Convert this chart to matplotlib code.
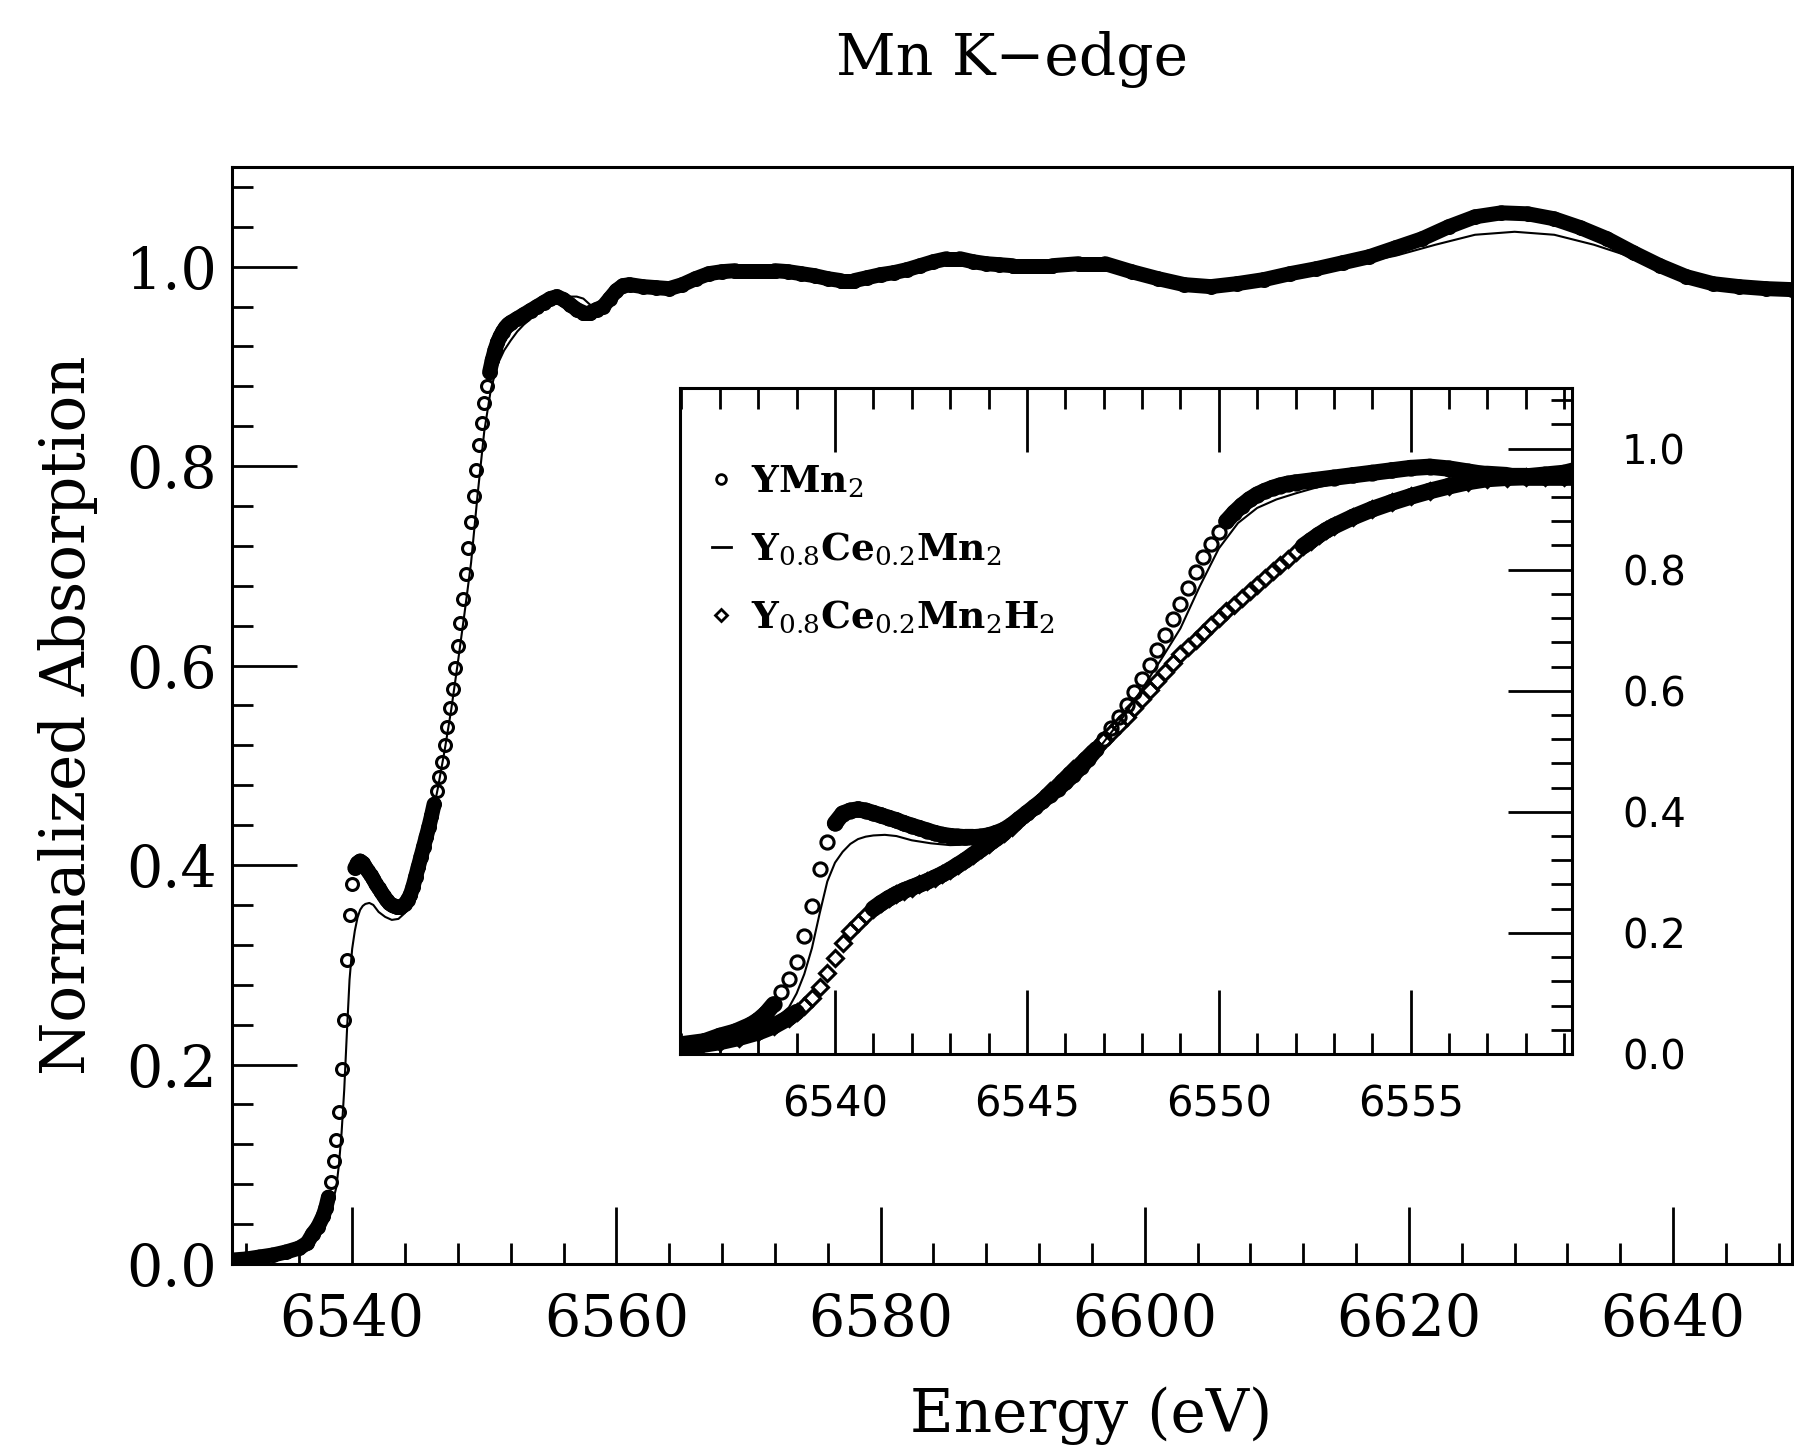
import numpy as np
import matplotlib
matplotlib.use("Agg")
import matplotlib.pyplot as plt
from matplotlib.collections import LineCollection
from matplotlib.lines import Line2D
from matplotlib.ticker import MultipleLocator, FormatStrFormatter

plt.rcParams['font.family'] = ['DejaVu Serif']
plt.rcParams['mathtext.fontset'] = 'dejavuserif'

# YMn2 (open circles)
e_ymn2 = [6531.0, 6532.0, 6533.0, 6534.0, 6535.0, 6536.0, 6536.6, 6537.0, 6537.4, 6537.8,
          6538.0, 6538.2, 6538.4, 6538.6, 6538.8, 6539.0, 6539.2, 6539.4, 6539.6, 6539.8,
          6540.0, 6540.2, 6540.4, 6540.6, 6540.8, 6541.0, 6541.2, 6541.4, 6541.6, 6541.8,
          6542.0, 6542.2, 6542.4, 6542.6, 6542.8, 6543.0, 6543.2, 6543.4, 6543.6, 6543.8,
          6544.0, 6544.2, 6544.4, 6544.6, 6544.8, 6545.0, 6545.2, 6545.4, 6545.6, 6545.8,
          6546.0, 6546.2, 6546.4, 6546.6, 6546.8, 6547.0, 6547.2, 6547.4, 6547.6, 6547.8,
          6548.0, 6548.2, 6548.4, 6548.6, 6548.8, 6549.0, 6549.2, 6549.4, 6549.6, 6549.8,
          6550.0, 6550.2, 6550.4, 6550.6, 6550.8, 6551.0, 6551.2, 6551.4, 6551.6, 6551.8,
          6552.0, 6552.5, 6553.0, 6553.5, 6554.0, 6554.5, 6555.0, 6555.5, 6556.0, 6556.5,
          6557.0, 6557.5, 6558.0, 6558.5, 6559.0, 6559.5, 6560.0, 6560.5, 6561.0,
          6562, 6563, 6564, 6565, 6566, 6567, 6568, 6569, 6570, 6571, 6572, 6573, 6574,
          6575, 6576, 6577, 6578, 6579, 6580, 6581, 6582, 6583, 6584, 6585, 6586, 6587,
          6588, 6589, 6590, 6591, 6593, 6595, 6597, 6599, 6601, 6603, 6605, 6607, 6609,
          6611, 6613, 6615, 6617, 6619, 6621, 6623, 6625, 6627, 6629, 6631, 6633, 6635,
          6637, 6639, 6641, 6643, 6645, 6647, 6649]
mu_ymn2 = [0.004, 0.005, 0.007, 0.009, 0.012, 0.016, 0.021, 0.030, 0.037, 0.048,
           0.056, 0.067, 0.082, 0.103, 0.124, 0.152, 0.195, 0.245, 0.305, 0.350,
           0.381, 0.397, 0.402, 0.404, 0.402, 0.398, 0.394, 0.390, 0.386, 0.381,
           0.377, 0.373, 0.369, 0.365, 0.362, 0.360, 0.359, 0.358, 0.358, 0.359,
           0.361, 0.365, 0.370, 0.378, 0.388, 0.398, 0.408, 0.418, 0.428, 0.438,
           0.449, 0.461, 0.474, 0.488, 0.503, 0.520, 0.538, 0.557, 0.577, 0.598,
           0.620, 0.643, 0.667, 0.692, 0.718, 0.744, 0.770, 0.796, 0.821, 0.843,
           0.863, 0.880, 0.894, 0.906, 0.916, 0.924, 0.930, 0.935, 0.939, 0.942,
           0.944, 0.948, 0.952, 0.956, 0.960, 0.964, 0.968, 0.970, 0.967, 0.962,
           0.957, 0.954, 0.954, 0.957, 0.960, 0.968, 0.976, 0.981, 0.982,
           0.980, 0.979, 0.978, 0.982, 0.988, 0.993, 0.995, 0.996, 0.996, 0.996, 0.996, 0.995, 0.993,
           0.991, 0.988, 0.986, 0.986, 0.989, 0.992, 0.994, 0.997, 1.001, 1.005, 1.008, 1.008, 1.005,
           1.003, 1.002, 1.001, 1.001, 1.001, 1.003, 1.003, 0.995, 0.988, 0.982, 0.980, 0.983, 0.987,
           0.993, 0.998, 1.004, 1.010, 1.019, 1.028, 1.040, 1.050, 1.054, 1.053, 1.048, 1.039, 1.028,
           1.014, 1.001, 0.990, 0.983, 0.980, 0.978, 0.977]

# Y0.8Ce0.2Mn2 (thin line)
e_ce = [6531.0, 6533.0, 6535.0, 6536.0, 6537.0, 6537.5, 6538.0, 6538.4, 6538.8, 6539.0,
        6539.2, 6539.4, 6539.6, 6539.8, 6540.0, 6540.2, 6540.4, 6540.6, 6540.8, 6541.0,
        6541.3, 6541.6, 6542.0, 6542.5, 6543.0, 6543.5, 6544.0, 6544.5, 6545.0, 6545.5,
        6546.0, 6546.5, 6547.0, 6547.5, 6548.0, 6548.5, 6549.0, 6549.5, 6550.0, 6550.5,
        6551.0, 6551.5, 6552.0, 6552.5, 6553.0, 6554.0, 6555.0, 6555.5, 6556.0, 6556.5,
        6557.0, 6557.5, 6558.0, 6558.5, 6559.0, 6560.0, 6561, 6562, 6563, 6564, 6566,
        6568, 6570, 6572, 6574, 6576, 6578, 6580, 6582, 6584, 6586, 6588, 6590, 6592,
        6595, 6598, 6601, 6604, 6607, 6610, 6613, 6616, 6619, 6622, 6625, 6628, 6631,
        6634, 6637, 6640, 6643, 6646, 6649]
mu_ce = [0.004, 0.006, 0.010, 0.013, 0.020, 0.028, 0.040, 0.055, 0.077, 0.100,
         0.132, 0.175, 0.232, 0.285, 0.316, 0.334, 0.347, 0.355, 0.359, 0.361,
         0.362, 0.360, 0.353, 0.348, 0.345, 0.346, 0.352, 0.365, 0.383, 0.408,
         0.445, 0.478, 0.515, 0.556, 0.603, 0.652, 0.703, 0.772, 0.835, 0.877,
         0.902, 0.916, 0.926, 0.935, 0.942, 0.953, 0.962, 0.966, 0.968, 0.970,
         0.970, 0.968, 0.962, 0.959, 0.961, 0.972, 0.978, 0.977, 0.976, 0.976, 0.985,
         0.992, 0.994, 0.994, 0.991, 0.987, 0.985, 0.990, 0.995, 1.003, 1.005, 1.001, 0.999, 0.999,
         1.001, 0.996, 0.986, 0.979, 0.981, 0.989, 0.996, 1.003, 1.011, 1.022, 1.032, 1.035, 1.032,
         1.022, 1.009, 0.995, 0.983, 0.978, 0.976]

# Y0.8Ce0.2Mn2H2 (open diamonds, inset only)
e_h2 = [6536.0, 6536.5, 6537.0, 6537.5, 6538.0, 6538.4, 6538.8, 6539.0, 6539.2, 6539.4,
        6539.6, 6539.8, 6540.0, 6540.2, 6540.4, 6540.6, 6540.8, 6541.0, 6541.2, 6541.4,
        6541.6, 6541.8, 6542.0, 6542.2, 6542.4, 6542.6, 6542.8, 6543.0, 6543.2, 6543.4,
        6543.6, 6543.8, 6544.0, 6544.2, 6544.4, 6544.6, 6544.8, 6545.0, 6545.2, 6545.4,
        6545.6, 6545.8, 6546.0, 6546.2, 6546.4, 6546.6, 6546.8, 6547.0, 6547.2, 6547.4,
        6547.6, 6547.8, 6548.0, 6548.2, 6548.4, 6548.6, 6548.8, 6549.0, 6549.2, 6549.4,
        6549.6, 6549.8, 6550.0, 6550.2, 6550.4, 6550.6, 6550.8, 6551.0, 6551.2, 6551.4,
        6551.6, 6551.8, 6552.0, 6552.2, 6552.4, 6552.6, 6552.8, 6553.0, 6553.5, 6554.0,
        6554.5, 6555.0, 6555.5, 6556.0, 6556.5, 6557.0, 6557.5, 6558.0, 6558.5, 6559.0, 6559.5]
mu_h2 = [0.012, 0.015, 0.020, 0.027, 0.036, 0.046, 0.060, 0.069, 0.080, 0.093,
         0.110, 0.134, 0.158, 0.184, 0.203, 0.217, 0.229, 0.240, 0.249, 0.257,
         0.264, 0.270, 0.275, 0.280, 0.285, 0.291, 0.297, 0.304, 0.312, 0.320,
         0.329, 0.338, 0.347, 0.356, 0.365, 0.375, 0.386, 0.398, 0.410, 0.422,
         0.434, 0.446, 0.458, 0.470, 0.482, 0.494, 0.506, 0.518, 0.530, 0.543,
         0.557, 0.571, 0.586, 0.601, 0.616, 0.631, 0.646, 0.660, 0.672, 0.684,
         0.696, 0.708, 0.720, 0.731, 0.742, 0.753, 0.764, 0.775, 0.786, 0.797,
         0.808, 0.818, 0.829, 0.839, 0.848, 0.857, 0.865, 0.872, 0.887, 0.900,
         0.911, 0.921, 0.930, 0.938, 0.945, 0.950, 0.952, 0.953, 0.953, 0.953, 0.953]

labels = ['YMn$_2$', 'Y$_{0.8}$Ce$_{0.2}$Mn$_2$', 'Y$_{0.8}$Ce$_{0.2}$Mn$_2$H$_2$']
inset_xticks = [6540, 6545, 6550, 6555]
inset_yticks = [0.0, 0.2, 0.4, 0.6, 0.8, 1.0]


def band(ax, e, m, thr, lw):
    # join neighbours that sit close together vertically on screen (or are
    # sampled coarsely), so dense runs read as one solid stroke and steep
    # runs stay as separate symbols
    pts = ax.transData.transform(np.column_stack([e, m]))
    segs = []
    for i in range(len(e) - 1):
        dx = abs(pts[i + 1, 0] - pts[i, 0])
        dy = abs(pts[i + 1, 1] - pts[i, 1])
        if dy < thr or dx >= 12:
            segs.append([(e[i], m[i]), (e[i + 1], m[i + 1])])
    lc = LineCollection(segs, colors='black', linewidths=lw, capstyle='round', joinstyle='round', zorder=2)
    ax.add_collection(lc)


fig = plt.figure(figsize=(17.94, 14.48), dpi=100)

# main panel
ax = fig.add_axes([0.1293, 0.1271, 0.8696, 0.7576])
ax.set_xlim(6530.9, 6649.0)
ax.set_ylim(0, 1.1)
band(ax, e_ymn2, mu_ymn2, 12, 10.8)
ax.plot(e_ymn2, mu_ymn2, 'o', mfc='none', mec='black', ms=8.6, mew=2.2, zorder=3)
ax.plot(e_ce, mu_ce, '-', color='black', lw=1.5, zorder=4)

ax.xaxis.set_major_locator(MultipleLocator(20))
ax.xaxis.set_minor_locator(MultipleLocator(4))
ax.yaxis.set_major_locator(MultipleLocator(0.2))
ax.yaxis.set_minor_locator(MultipleLocator(0.04))
ax.yaxis.set_major_formatter(FormatStrFormatter('%.1f'))
ax.tick_params(which='major', direction='in', width=2, labelsize=41, top=False, right=False)
ax.tick_params(which='minor', direction='in', length=15, width=2, top=False, right=False)
ax.tick_params(axis='x', which='major', length=41, pad=20)
ax.tick_params(axis='y', which='major', length=47, pad=11)
for s in ax.spines.values():
    s.set_linewidth(2.2)
ax.set_xlabel('Energy (eV)', fontsize=43, labelpad=28, x=0.551)
ax.set_ylabel('Normalized Absorption', fontsize=44, labelpad=20)
ax.set_title('Mn K\u2212edge', fontsize=42, pad=66)

# inset
axin = fig.add_axes([0.3790, 0.2721, 0.4972, 0.4599])
axin.set_xlim(6535.96, 6559.2)
axin.set_ylim(0, 1.1)
band(axin, e_ymn2, mu_ymn2, 10, 11.7)
band(axin, e_h2, mu_h2, 6, 12)
axin.plot(e_ymn2, mu_ymn2, 'o', mfc='none', mec='black', ms=9.5, mew=2.2, zorder=3)
axin.plot(e_h2, mu_h2, 'D', mfc='none', mec='black', ms=8, mew=2.2, zorder=3)
axin.plot(e_ce, mu_ce, '-', color='black', lw=1.5, zorder=4)

axin.set_xticks(inset_xticks)
axin.set_xticklabels([str(t) for t in inset_xticks], family='DejaVu Sans', fontsize=30)
axin.set_yticks(inset_yticks)
axin.set_yticklabels(['%.1f' % t for t in inset_yticks], family='DejaVu Sans', fontsize=29)
axin.xaxis.set_minor_locator(MultipleLocator(1))
axin.yaxis.set_minor_locator(MultipleLocator(0.04))
axin.tick_params(which='major', direction='in', length=46, width=2, top=True, bottom=True,
                 left=False, right=True, labelleft=False, labelright=True)
axin.tick_params(which='minor', direction='in', length=15, width=2, top=True, bottom=True,
                 left=False, right=True)
axin.tick_params(axis='x', pad=21)
axin.tick_params(axis='y', pad=36)
for s in axin.spines.values():
    s.set_linewidth(2.2)

handles = [Line2D([], [], marker='o', ls='none', mfc='none', mec='black', ms=7, mew=2),
           Line2D([], [], color='black', lw=2),
           Line2D([], [], marker='D', ls='none', mfc='none', mec='black', ms=6.5, mew=2)]
leg = axin.legend(handles, labels, loc='upper left', bbox_to_anchor=(0.036, 0.887), frameon=False,
                  borderpad=0, borderaxespad=0, handlelength=0.5, handletextpad=0.55,
                  labelspacing=0.82, prop={'family': 'DejaVu Serif', 'weight': 'bold', 'size': 27})

fig.savefig('out.png', dpi=100)
